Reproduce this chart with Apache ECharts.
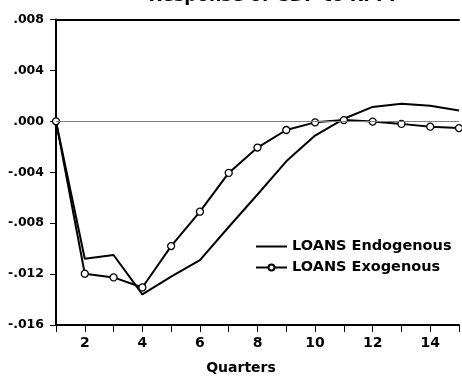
<!DOCTYPE html>
<html>
<head>
<meta charset="utf-8">
<script src="https://cdn.jsdelivr.net/npm/echarts@6/dist/echarts.min.js"></script>
<style>
  html, body { margin: 0; padding: 0; background: #fff; }
  #chart { width: 462px; height: 376px; }
</style>
</head>
<body>
<div id="chart"></div>
<script>
// Impulse responses of GDP to an RPPI shock, by quarter
const quarters = [1, 2, 3, 4, 5, 6, 7, 8, 9, 10, 11, 12, 13, 14, 15];
const loansEndogenous = [0, -0.0108, -0.0105, -0.0136, -0.0122, -0.0109, -0.0083, -0.00575, -0.00314, -0.00112, 0.0002, 0.00113, 0.00139, 0.00123, 0.00085];
const loansExogenous = [0, -0.01197, -0.01226, -0.01305, -0.0098, -0.0071, -0.00405, -0.00206, -0.00068, -0.00008, 0.0001, -0.00002, -0.0002, -0.00042, -0.00053];
const yTicks = { min: -0.016, max: 0.008, step: 0.004 };
const seriesNames = ['LOANS Endogenous', 'LOANS Exogenous'];

const pairs = (ys) => quarters.map((q, i) => [q, ys[i]]);
const fmtY = (v) => {
  const s = Math.abs(v).toFixed(3).replace(/^0/, '');
  return (v < -1e-9 ? '-' : '') + s;
};
const FONT = 'DejaVu Sans';

// legend keys: plain line, and line with an open circle
const ICON_LINE = 'path://M0,0H31V2H0Z';
const ICON_MARKED = 'path://M0,5H12.5M18.5,5H31M18.5,5A3,3,0,1,1,12.5,5A3,3,0,1,1,18.5,5';

const chart = echarts.init(document.getElementById('chart'), null, { renderer: 'canvas' });
chart.setOption({
  animation: false,
  backgroundColor: '#ffffff',
  graphic: [
    {
      type: 'text', x: 272, y: -3.5,
      style: {
        text: 'Response of GDP to RPPI', align: 'center', verticalAlign: 'middle',
        font: 'bold 17.5px "DejaVu Sans"', fill: '#000'
      }
    },
    {
      type: 'text', x: 241, y: 368,
      style: {
        text: 'Quarters', align: 'center', verticalAlign: 'middle',
        font: 'bold 14px "DejaVu Sans"', fill: '#000'
      }
    }
  ],
  legend: {
    orient: 'vertical',
    left: 255, top: 239, padding: 0,
    itemWidth: 31, itemHeight: 15, itemGap: 6,
    textStyle: { fontFamily: FONT, fontWeight: 'bold', fontSize: 14.5, color: '#000', lineHeight: 15 },
    data: [
      { name: seriesNames[0], icon: ICON_LINE, itemStyle: { color: '#000', borderWidth: 0 } },
      { name: seriesNames[1], icon: ICON_MARKED, itemStyle: { color: '#fff', borderColor: '#000', borderWidth: 2 } }
    ]
  },
  grid: { left: 56, right: 0, top: 19.5, bottom: 51, containLabel: false },
  xAxis: [
    {
      type: 'value', min: 1, max: 15, interval: 1,
      axisLine: { onZero: false, lineStyle: { color: '#000', width: 2 } },
      axisTick: { length: 7, lineStyle: { color: '#000', width: 1 } },
      axisLabel: {
        margin: 11, fontFamily: FONT, fontWeight: 'bold', fontSize: 14, color: '#000',
        formatter: (v) => (v % 2 === 0 ? String(v) : '')
      },
      splitLine: { show: false }
    },
    {
      type: 'value', position: 'top', min: 1, max: 15,
      axisLine: { show: true, onZero: false, lineStyle: { color: '#000', width: 2 } },
      axisTick: { show: false }, axisLabel: { show: false }, splitLine: { show: false }
    }
  ],
  yAxis: {
    type: 'value', min: yTicks.min, max: yTicks.max, interval: yTicks.step,
    axisLine: { show: true, onZero: false, lineStyle: { color: '#000', width: 2 } },
    axisTick: { show: true, length: 6, lineStyle: { color: '#000', width: 1 } },
    axisLabel: { margin: 12, fontFamily: FONT, fontWeight: 'bold', fontSize: 12.5, color: '#000', formatter: fmtY },
    splitLine: { show: false }
  },
  series: [
    {
      name: seriesNames[0], type: 'line', data: pairs(loansEndogenous),
      symbol: 'none', z: 3,
      lineStyle: { color: '#000', width: 2 },
      itemStyle: { color: '#000' },
      markLine: {
        silent: true, symbol: ['none', 'none'], label: { show: false },
        lineStyle: { color: '#808080', width: 1, type: 'solid' },
        data: [{ yAxis: 0 }]
      }
    },
    {
      name: seriesNames[1], type: 'line', data: pairs(loansExogenous),
      symbol: 'circle', symbolSize: 7, z: 4,
      lineStyle: { color: '#000', width: 2 },
      itemStyle: { color: '#fff', borderColor: '#000', borderWidth: 1.3 }
    }
  ]
});
</script>
</body>
</html>
